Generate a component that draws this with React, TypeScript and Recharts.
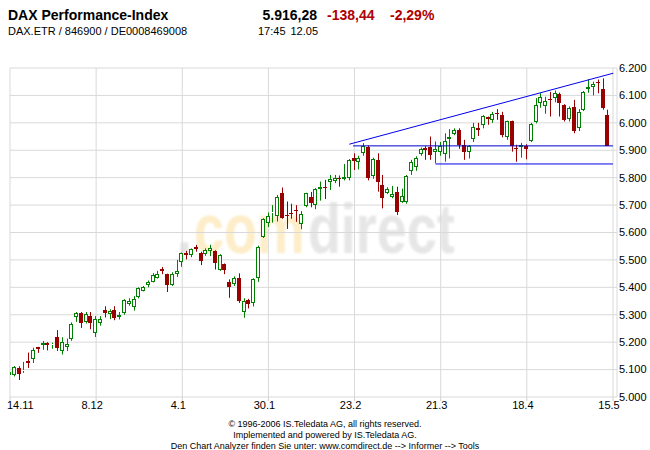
import { ComposedChart, Bar, XAxis, YAxis, CartesianGrid, ReferenceLine } from "recharts"

// DAX daily candles, 14.11.2005 .. 12.05.2006 (trading day index = position)
const opens = [
  5080, 5082, 5107, 5095, 5130, 5140, 5182, 5190, 5196, 5188, 5218, 5167, 5183, 5210, 5292, 5305, 5272, 5295,
  5232, 5270, 5317, 5302, 5317, 5293, 5305, 5341, 5329, 5365, 5388, 5408, 5420, 5435, 5466, 5448, 5408, 5447,
  5493, 5526, 5518, 5548, 5527, 5522, 5533, 5533, 5465, 5485, 5419, 5411, 5434, 5311, 5353, 5344, 5433, 5585,
  5636, 5670, 5660, 5743, 5663, 5670, 5682, 5630, 5697, 5731, 5700, 5760, 5767, 5786, 5788, 5800, 5794, 5798,
  5871, 5856, 5889, 5913, 5807, 5865, 5774, 5745, 5731, 5747, 5713, 5713, 5825, 5840, 5887, 5908, 5911, 5895,
  5895, 5887, 5942, 5958, 5974, 5920, 5892, 5941, 5980, 5992, 6020, 6011, 6037, 6029, 5947, 6005, 5909, 5911,
  5917, 5935, 6002, 6072, 6060, 6087, 6089, 6106, 6066, 6014, 6058, 5980, 6047, 6123, 6130, 6148, 6125, 6029,
]
const highs = [
  5105, 5113, 5112, 5128, 5162, 5180, 5183, 5204, 5200, 5198, 5244, 5218, 5213, 5272, 5310, 5310, 5310, 5310,
  5295, 5295, 5331, 5320, 5331, 5310, 5357, 5360, 5368, 5400, 5405, 5425, 5452, 5460, 5474, 5450, 5455, 5500,
  5527, 5533, 5542, 5555, 5530, 5542, 5555, 5535, 5521, 5487, 5429, 5440, 5451, 5360, 5358, 5433, 5552, 5652,
  5673, 5700, 5737, 5764, 5713, 5705, 5700, 5678, 5745, 5748, 5762, 5786, 5792, 5810, 5810, 5808, 5850, 5868,
  5889, 5880, 5926, 5917, 5873, 5889, 5810, 5765, 5770, 5767, 5760, 5810, 5865, 5878, 5910, 5915, 5950, 5932,
  5930, 5962, 5977, 5980, 5980, 5938, 5918, 6000, 6000, 6028, 6023, 6040, 6050, 6040, 6008, 6008, 5920, 5927,
  5922, 6000, 6090, 6108, 6095, 6113, 6118, 6110, 6068, 6060, 6084, 6050, 6116, 6158, 6150, 6158, 6162, 6048,
]
const lows = [
  5070, 5075, 5062, 5088, 5106, 5124, 5161, 5172, 5170, 5176, 5168, 5155, 5168, 5205, 5274, 5252, 5268, 5247,
  5219, 5260, 5290, 5284, 5280, 5283, 5300, 5333, 5315, 5360, 5385, 5400, 5418, 5432, 5448, 5383, 5405, 5438,
  5475, 5502, 5510, 5530, 5481, 5515, 5514, 5465, 5460, 5448, 5362, 5405, 5343, 5289, 5323, 5330, 5420, 5580,
  5620, 5636, 5640, 5650, 5613, 5650, 5639, 5612, 5692, 5692, 5685, 5716, 5722, 5755, 5780, 5767, 5790, 5790,
  5828, 5830, 5880, 5790, 5796, 5749, 5688, 5740, 5725, 5664, 5708, 5705, 5810, 5825, 5880, 5865, 5865, 5853,
  5880, 5858, 5870, 5955, 5905, 5865, 5870, 5930, 5952, 5980, 5993, 6000, 6011, 5947, 5938, 5895, 5858, 5873,
  5867, 5930, 5998, 6055, 6033, 6023, 6075, 6023, 6005, 6005, 5962, 5970, 6043, 6110, 6100, 6108, 6048, 5916,
]
const closes = [
  5090, 5110, 5085, 5100, 5124, 5170, 5175, 5197, 5190, 5195, 5180, 5199, 5195, 5268, 5308, 5270, 5302, 5270,
  5284, 5283, 5305, 5312, 5289, 5298, 5353, 5351, 5357, 5396, 5401, 5420, 5445, 5448, 5458, 5408, 5450, 5461,
  5524, 5518, 5539, 5540, 5497, 5536, 5543, 5487, 5518, 5465, 5400, 5433, 5351, 5350, 5338, 5429, 5548, 5648,
  5660, 5676, 5731, 5652, 5660, 5666, 5678, 5667, 5743, 5707, 5758, 5767, 5761, 5794, 5798, 5794, 5801, 5865,
  5861, 5871, 5915, 5798, 5867, 5786, 5725, 5757, 5740, 5676, 5733, 5805, 5858, 5871, 5904, 5902, 5883, 5904,
  5915, 5932, 5948, 5974, 5920, 5895, 5915, 5984, 5975, 6025, 6014, 6033, 6033, 5956, 6005, 5916, 5906, 5920,
  5906, 5994, 6066, 6096, 6081, 6082, 6108, 6071, 6011, 6054, 5972, 6041, 6113, 6129, 6142, 6145, 6055, 5916,
]

const tickDays = [0, 18, 36, 54, 72, 90, 108, 126]
const tickDates = ["14.11", "8.12", "4.1", "30.1", "23.2", "21.3", "18.4", "15.5"]
const priceTicks = [5000, 5100, 5200, 5300, 5400, 5500, 5600, 5700, 5800, 5900, 6000, 6100, 6200]

// drawn trend lines (day index, index points)
const trendUpper = [{ day: 70.9, price: 5922 }, { day: 126.05, price: 6181 }]
const closeLine = [{ day: 71.7, price: 5916 }, { day: 126, price: 5916 }]
const supportLine = [{ day: 88.9, price: 5850 }, { day: 126, price: 5850 }]

const data = opens.map((o, i) => ({
  day: i,
  open: o,
  high: highs[i],
  low: lows[i],
  close: closes[i],
  range: [lows[i], highs[i]],
}))

const font = "'Liberation Sans', Arial, sans-serif"
const UP = "#008000"
const DOWN = "#990000"

const fmtPrice = (v: number) => `${Math.floor(v / 1000)}.${String(v % 1000).padStart(3, "0")}`

function Candle(props: any) {
  const { x, y, width, height, payload } = props
  if (!payload || height == null || isNaN(y)) return null
  const { open, close, high, low } = payload
  const top = Math.min(y, y + height)
  const span = Math.abs(height)
  const k = high > low ? span / (high - low) : 0
  const py = (v: number) => top + (high - v) * k
  const n = Math.floor(x + width / 2)
  const cx = n + 0.5
  const up = close >= open
  const color = up ? UP : DOWN
  let bTop = Math.round(py(Math.max(open, close)))
  let bBot = Math.round(py(Math.min(open, close)))
  if (bBot - bTop < 1) bBot = bTop + 1
  return (
    <g>
      <line x1={cx} x2={cx} y1={top} y2={bTop} stroke={color} strokeWidth={1} />
      <line x1={cx} x2={cx} y1={bBot} y2={top + span} stroke={color} strokeWidth={1} />
      {up ? (
        <rect x={n - 1.5} y={bTop + 0.5} width={3} height={Math.max(bBot - bTop - 1, 0)} fill="#fff" stroke={color} strokeWidth={1} />
      ) : (
        <rect x={n - 2} y={bTop} width={4} height={bBot - bTop} fill={color} />
      )}
    </g>
  )
}

function DateTick(props: any) {
  const { x, y, payload } = props
  const idx = tickDays.indexOf(payload.value)
  const first = idx === 0
  return (
    <text x={first ? x - 3 : x - 4} y={y + 8} textAnchor={first ? "start" : "middle"} fontSize={11} fontFamily={font} fill="#000">
      {tickDates[idx]}
    </text>
  )
}

export default function App() {
  return (
    <div style={{ position: "absolute", left: 0, top: 0, width: 650, height: 450, background: "#fff", overflow: "hidden" }}>
      <svg width={650} height={450} style={{ position: "absolute", left: 0, top: 0 }}>
        <defs>
          <filter id="wm" x="-10%" y="-10%" width="120%" height="120%">
            <feGaussianBlur stdDeviation="1.2" />
          </filter>
        </defs>
        {/* background logo, squeezed horizontally */}
        <g filter="url(#wm)" transform="translate(177,253) scale(0.77,1)" fontFamily={font} fontWeight="bold" fontSize={70}>
          <text x={0} y={0} fill="#e4e4e4">.</text>
          <text x={22} y={0} fill="#fdedc8">com</text>
          <text x={170} y={0} fill="#e6e6e6">direct</text>
        </g>

        <text x={8} y={20} fontFamily={font} fontWeight="bold" fontSize={14} fill="#000">DAX Performance-Index</text>
        <text x={317} y={20} textAnchor="end" fontFamily={font} fontWeight="bold" fontSize={14} fill="#000">5.916,28</text>
        <text x={327} y={20} fontFamily={font} fontWeight="bold" fontSize={14} fill="#b00000">-138,44</text>
        <text x={390} y={20} fontFamily={font} fontWeight="bold" fontSize={14} fill="#b00000">-2,29%</text>
        <text x={8} y={35} fontFamily={font} fontSize={11} fill="#000">DAX.ETR / 846900 / DE0008469008</text>
        <text x={258} y={35} fontFamily={font} fontSize={11} fill="#000">17:45</text>
        <text x={318} y={35} textAnchor="end" fontFamily={font} fontSize={11} fill="#000">12.05</text>

        <g fontFamily={font} fontSize={9} fill="#000" textAnchor="middle">
          <text x={325} y={427}>© 1996-2006 IS.Teledata AG, all rights reserved.</text>
          <text x={325} y={438}>Implemented and powered by IS.Teledata AG.</text>
          <text x={325} y={449}>Den Chart Analyzer finden Sie unter: www.comdirect.de --&gt; Informer --&gt; Tools</text>
        </g>
      </svg>

      <div style={{ position: "absolute", left: 0, top: 0 }}>
        <ComposedChart width={650} height={450} data={data} margin={{ top: 68, right: 0, bottom: 33, left: 10 }}>
          <CartesianGrid stroke="#d9d9d9" strokeWidth={1} />
          <XAxis
            dataKey="day"
            type="number"
            domain={[0, 126.84]}
            allowDataOverflow
            ticks={tickDays}
            interval={0}
            height={20}
            axisLine={false}
            tickLine={{ stroke: "#d0d0d0" }}
            tickSize={4}
            tickMargin={0}
            tick={<DateTick />}
          />
          <YAxis
            orientation="right"
            domain={[5000, 6200]}
            ticks={priceTicks}
            interval={0}
            width={33}
            axisLine={false}
            tickLine={false}
            tickSize={0}
            tickMargin={2}
            tickFormatter={fmtPrice}
            tick={{ fontSize: 11, fontFamily: font, fill: "#000" }}
          />
          <Bar dataKey="range" barSize={4} isAnimationActive={false} shape={(p: any) => <Candle {...p} />} />
          <ReferenceLine
            segment={[{ x: trendUpper[0].day, y: trendUpper[0].price }, { x: trendUpper[1].day, y: trendUpper[1].price }]}
            stroke="#0000ee"
            strokeWidth={1}
            ifOverflow="visible"
          />
          <ReferenceLine
            segment={[{ x: closeLine[0].day, y: closeLine[0].price }, { x: closeLine[1].day, y: closeLine[1].price }]}
            stroke="#0000cc"
            strokeWidth={1}
            ifOverflow="visible"
          />
          <ReferenceLine
            segment={[{ x: supportLine[0].day, y: supportLine[0].price }, { x: supportLine[1].day, y: supportLine[1].price }]}
            stroke="#0000ee"
            strokeWidth={1}
            ifOverflow="visible"
          />
        </ComposedChart>
      </div>
    </div>
  )
}
